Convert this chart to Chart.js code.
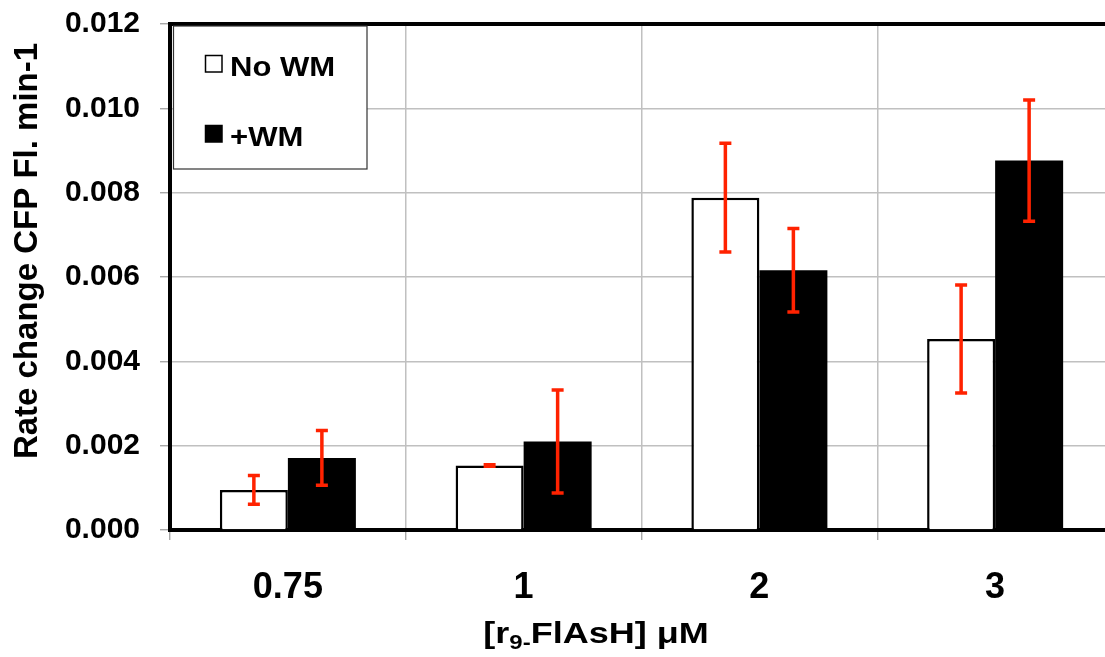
<!DOCTYPE html>
<html>
<head>
<meta charset="utf-8">
<script src="https://cdn.jsdelivr.net/npm/chart.js@4"></script>
<style>
  html, body { margin: 0; padding: 0; background: #fff; overflow: hidden; }
  #wrap { width: 1120px; height: 657px; }
</style>
</head>
<body>
<div id="wrap"><canvas id="rateChart" width="1120" height="657"></canvas></div>
<script>
// data
const categories = ['0.75', '1', '2', '3'];
const noWM = [0.00095, 0.00153, 0.00788, 0.00453];
const noWMErr = [0.00034, 0.00002, 0.00129, 0.00128];
const plusWM = [0.00171, 0.0021, 0.00616, 0.00876];
const plusWMErr = [0.00065, 0.00122, 0.00099, 0.00144];
const yTicks = [0, 0.002, 0.004, 0.006, 0.008, 0.010, 0.012];
const seriesNames = ['No WM', '+WM'];

const FONT = "'Liberation Sans', Arial, sans-serif";

// draw text stretched horizontally, left aligned at x
function wideText(ctx, text, x, y, sx) {
  ctx.save();
  ctx.translate(x, y);
  ctx.scale(sx, 1);
  ctx.fillText(text, 0, 0);
  ctx.restore();
  return ctx.measureText(text).width * sx;
}

// error bars + frame + legend + titles
const extras = {
  id: 'extras',
  afterDatasetsDraw(chart) {
    const ctx = chart.ctx;
    const y = chart.scales.y;
    const errs = [noWMErr, plusWMErr];
    const vals = [noWM, plusWM];
    ctx.save();
    ctx.strokeStyle = '#ff2200';
    ctx.lineWidth = 3.5;
    chart.data.datasets.forEach((ds, di) => {
      const meta = chart.getDatasetMeta(di);
      meta.data.forEach((bar, i) => {
        const top = y.getPixelForValue(vals[di][i] + errs[di][i]);
        const bot = y.getPixelForValue(vals[di][i] - errs[di][i]);
        ctx.beginPath();
        ctx.moveTo(bar.x, top);
        ctx.lineTo(bar.x, bot);
        ctx.moveTo(bar.x - 6, top);
        ctx.lineTo(bar.x + 6, top);
        ctx.moveTo(bar.x - 6, bot);
        ctx.lineTo(bar.x + 6, bot);
        ctx.stroke();
      });
    });
    ctx.restore();
  },
  afterDraw(chart) {
    const ctx = chart.ctx;
    const area = chart.chartArea;
    ctx.save();
    // top frame line
    ctx.strokeStyle = '#000';
    ctx.lineWidth = 4;
    ctx.beginPath();
    ctx.moveTo(area.left - 2, area.top);
    ctx.lineTo(area.right, area.top);
    ctx.stroke();

    // legend box
    const lt = area.top + 2;
    ctx.fillStyle = '#fff';
    ctx.fillRect(173, lt, 194, 169 - lt);
    ctx.strokeStyle = '#333';
    ctx.lineWidth = 1.2;
    ctx.strokeRect(173.5, lt, 193.5, 169 - lt);
    const fills = ['#fff', '#000'];
    const rowY = [55, 125];
    ctx.font = 'bold 27px ' + FONT;
    ctx.textBaseline = 'alphabetic';
    ctx.textAlign = 'left';
    seriesNames.forEach((name, i) => {
      ctx.fillStyle = fills[i];
      ctx.fillRect(205, rowY[i], 17, 17);
      ctx.strokeStyle = '#000';
      ctx.lineWidth = 1.5;
      ctx.strokeRect(205.5, rowY[i] + 0.5, 16.5, 16.5);
      ctx.fillStyle = '#000';
      wideText(ctx, name, 230, rowY[i] + 21, 1.15);
    });

    // y title
    ctx.save();
    ctx.translate(37, 251);
    ctx.rotate(-Math.PI / 2);
    ctx.font = 'bold 33px ' + FONT;
    ctx.textAlign = 'center';
    ctx.textBaseline = 'alphabetic';
    ctx.fillText('Rate change CFP Fl. min-1', 0, 0);
    ctx.restore();

    // x title with subscript
    const sx = 1.2;
    const big = 'bold 30px ' + FONT;
    const small = 'bold 20px ' + FONT;
    const parts = [['[r', big, 0], ['9-', small, 6], ['FlAsH] \u03bcM', big, 0]];
    let total = 0;
    parts.forEach(p => { ctx.font = p[1]; total += ctx.measureText(p[0]).width * sx; });
    let x = 596 - total / 2;
    const base = 643;
    ctx.textAlign = 'left';
    parts.forEach(p => {
      ctx.font = p[1];
      x += wideText(ctx, p[0], x, base + p[2], sx);
    });
    ctx.restore();
  }
};

new Chart(document.getElementById('rateChart'), {
  type: 'bar',
  data: {
    labels: categories,
    datasets: [
      {
        label: seriesNames[0],
        data: noWM,
        backgroundColor: '#fff',
        borderColor: '#000',
        borderWidth: 2.5,
        categoryPercentage: 0.577,
        barPercentage: 1
      },
      {
        label: seriesNames[1],
        data: plusWM,
        backgroundColor: '#000',
        borderColor: '#000',
        borderWidth: 0,
        categoryPercentage: 0.577,
        barPercentage: 1
      }
    ]
  },
  options: {
    responsive: false,
    animation: false,
    layout: { padding: { top: 24, right: 7, left: 0, bottom: 0 } },
    plugins: {
      legend: { display: false },
      tooltip: { enabled: false }
    },
    scales: {
      x: {
        offset: true,
        grid: {
          offset: true,
          color: '#c0c0c0',
          lineWidth: 1.5,
          tickLength: 10,
          tickColor: '#999',
          tickWidth: 1.2
        },
        border: { color: '#000', width: 4 },
        ticks: {
          color: '#000',
          padding: 26,
          font: { family: FONT, size: 36, weight: 'bold' }
        },
        afterFit(scale) {
          scale.height = 127;
          scale.paddingLeft = 0;
          scale.paddingRight = 0;
        }
      },
      y: {
        min: 0,
        max: 0.012,
        afterBuildTicks(scale) { scale.ticks = yTicks.map(v => ({ value: v })); },
        grid: {
          color: '#c0c0c0',
          lineWidth: 1.5,
          tickLength: 10,
          tickColor: '#999',
          tickWidth: 1.2
        },
        border: { color: '#000', width: 4 },
        ticks: {
          color: '#000',
          padding: 20,
          font: { family: FONT, size: 30, weight: 'bold' },
          callback: v => Number(v).toFixed(3)
        },
        afterFit(scale) {
          scale.width = 170;
          scale.paddingTop = 0;
          scale.paddingBottom = 0;
        }
      }
    }
  },
  plugins: [extras]
});
</script>
</body>
</html>
